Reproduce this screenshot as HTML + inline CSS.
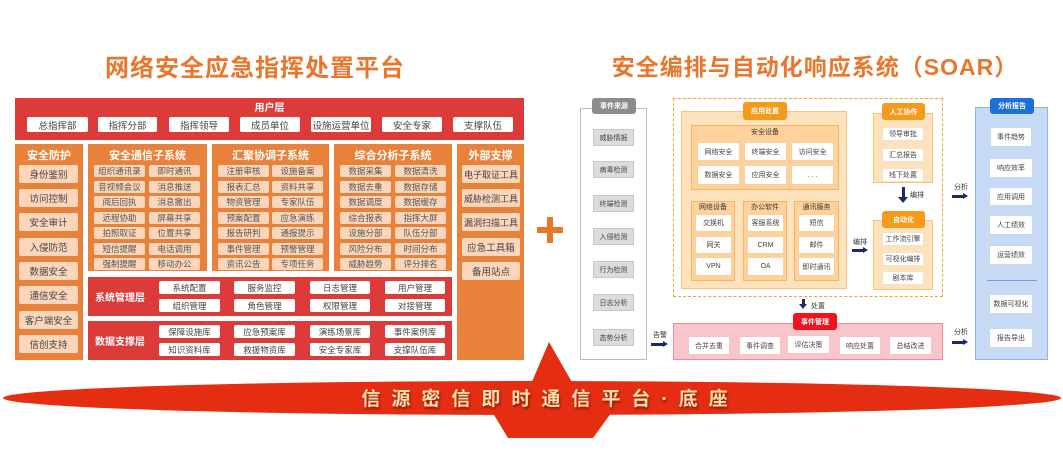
<!DOCTYPE html>
<html><head><meta charset="utf-8">
<style>
*{margin:0;padding:0;box-sizing:border-box}
body{width:1063px;height:473px;background:#fff;position:relative;overflow:hidden;font-family:"Liberation Sans","Noto Sans CJK SC",sans-serif}
div{position:absolute}
.c{display:flex;align-items:center;justify-content:center;text-align:center;white-space:nowrap}
.red{background:#dc3b3a}
.or{background:#e8823a}
.w{background:#fff;color:#444;font-size:9.5px;border-radius:2px}
.p{background:#fbd6bb;color:#555;font-size:8.5px;border-radius:2px}
.ph{background:#fbd6bb;color:#444;font-size:9.5px;border-radius:2px}
.t{color:#fff;font-weight:bold;font-size:11px}
.s{background:#fff;color:#444;font-size:7px;border-radius:1px;box-shadow:0 0 1px #ccc}
.g{background:#dcdcdc;color:#444;font-size:7px;border:1px solid #c8c8c8}
.pill{color:#fff;font-size:7px;font-weight:bold;border-radius:3px}
.lab{font-size:7px;color:#333}
.ar{height:3px;background:#1c2a6b}
.m{font-size:8.5px}
</style></head><body>

<div class="c" style="left:60px;top:50px;width:390px;height:30px;color:#e8762c;font-size:24px;font-weight:bold;letter-spacing:1px">网络安全应急指挥处置平台</div>
<div class="c" style="left:600px;top:50px;width:430px;height:30px;color:#e8762c;font-size:23px;font-weight:bold;letter-spacing:1px">安全编排与自动化响应系统（SOAR）</div>

<div class="red" style="left:15px;top:98px;width:509px;height:42px"></div>
<div class="c t" style="left:15px;top:99px;width:509px;height:14px;font-size:10px">用户层</div>
<div class="c w" style="left:27px;top:117px;width:61px;height:15px">总指挥部</div>
<div class="c w" style="left:98px;top:117px;width:59px;height:15px">指挥分部</div>
<div class="c w" style="left:169px;top:117px;width:60px;height:15px">指挥领导</div>
<div class="c w" style="left:240px;top:117px;width:60px;height:15px">成员单位</div>
<div class="c w" style="left:311px;top:117px;width:60px;height:15px">设施运营单位</div>
<div class="c w" style="left:382px;top:117px;width:60px;height:15px">安全专家</div>
<div class="c w" style="left:453px;top:117px;width:60px;height:15px">支撑队伍</div>

<div class="or" style="left:15px;top:144px;width:68px;height:216px"></div>
<div class="c t" style="left:15px;top:148px;width:68px;height:14px">安全防护</div>
<div class="c ph" style="left:19px;top:165px;width:59px;height:18px">身份鉴别</div>
<div class="c ph" style="left:19px;top:189px;width:59px;height:18px">访问控制</div>
<div class="c ph" style="left:19px;top:213px;width:59px;height:18px">安全审计</div>
<div class="c ph" style="left:19px;top:238px;width:59px;height:18px">入侵防范</div>
<div class="c ph" style="left:19px;top:262px;width:59px;height:18px">数据安全</div>
<div class="c ph" style="left:19px;top:286px;width:59px;height:18px">通信安全</div>
<div class="c ph" style="left:19px;top:311px;width:59px;height:18px">客户端安全</div>
<div class="c ph" style="left:19px;top:335px;width:59px;height:18px">信创支持</div>

<div class="or" style="left:88px;top:144px;width:119px;height:127px"></div>
<div class="c t" style="left:88px;top:148px;width:119px;height:14px">安全通信子系统</div>
<div class="or" style="left:212px;top:144px;width:117px;height:127px"></div>
<div class="c t" style="left:212px;top:148px;width:117px;height:14px">汇聚协调子系统</div>
<div class="or" style="left:334px;top:144px;width:118px;height:127px"></div>
<div class="c t" style="left:334px;top:148px;width:118px;height:14px">综合分析子系统</div>

<div class="c p" style="left:94px;top:165px;width:51px;height:12px">组织通讯录</div><div class="c p" style="left:149px;top:165px;width:51px;height:12px">即时通讯</div>
<div class="c p" style="left:94px;top:180.5px;width:51px;height:12px">音视频会议</div><div class="c p" style="left:149px;top:180.5px;width:51px;height:12px">消息推送</div>
<div class="c p" style="left:94px;top:196px;width:51px;height:12px">阅后回执</div><div class="c p" style="left:149px;top:196px;width:51px;height:12px">消息撤出</div>
<div class="c p" style="left:94px;top:211.5px;width:51px;height:12px">远程协助</div><div class="c p" style="left:149px;top:211.5px;width:51px;height:12px">屏幕共享</div>
<div class="c p" style="left:94px;top:227px;width:51px;height:12px">拍照取证</div><div class="c p" style="left:149px;top:227px;width:51px;height:12px">位置共享</div>
<div class="c p" style="left:94px;top:242.5px;width:51px;height:12px">短信提醒</div><div class="c p" style="left:149px;top:242.5px;width:51px;height:12px">电话调用</div>
<div class="c p" style="left:94px;top:258px;width:51px;height:12px">强制提醒</div><div class="c p" style="left:149px;top:258px;width:51px;height:12px">移动办公</div>

<div class="c p" style="left:218px;top:165px;width:51px;height:12px">注册审核</div><div class="c p" style="left:272px;top:165px;width:51px;height:12px">设施备案</div>
<div class="c p" style="left:218px;top:180.5px;width:51px;height:12px">报表汇总</div><div class="c p" style="left:272px;top:180.5px;width:51px;height:12px">资料共享</div>
<div class="c p" style="left:218px;top:196px;width:51px;height:12px">物资管理</div><div class="c p" style="left:272px;top:196px;width:51px;height:12px">专家队伍</div>
<div class="c p" style="left:218px;top:211.5px;width:51px;height:12px">预案配置</div><div class="c p" style="left:272px;top:211.5px;width:51px;height:12px">应急演练</div>
<div class="c p" style="left:218px;top:227px;width:51px;height:12px">报告研判</div><div class="c p" style="left:272px;top:227px;width:51px;height:12px">通报提示</div>
<div class="c p" style="left:218px;top:242.5px;width:51px;height:12px">事件管理</div><div class="c p" style="left:272px;top:242.5px;width:51px;height:12px">预警管理</div>
<div class="c p" style="left:218px;top:258px;width:51px;height:12px">资讯公告</div><div class="c p" style="left:272px;top:258px;width:51px;height:12px">专项任务</div>

<div class="c p" style="left:340px;top:165px;width:51px;height:12px">数据采集</div><div class="c p" style="left:395px;top:165px;width:51px;height:12px">数据清洗</div>
<div class="c p" style="left:340px;top:180.5px;width:51px;height:12px">数据去重</div><div class="c p" style="left:395px;top:180.5px;width:51px;height:12px">数据存储</div>
<div class="c p" style="left:340px;top:196px;width:51px;height:12px">数据调度</div><div class="c p" style="left:395px;top:196px;width:51px;height:12px">数据缓存</div>
<div class="c p" style="left:340px;top:211.5px;width:51px;height:12px">综合报表</div><div class="c p" style="left:395px;top:211.5px;width:51px;height:12px">指挥大屏</div>
<div class="c p" style="left:340px;top:227px;width:51px;height:12px">设施分部</div><div class="c p" style="left:395px;top:227px;width:51px;height:12px">队伍分部</div>
<div class="c p" style="left:340px;top:242.5px;width:51px;height:12px">风险分布</div><div class="c p" style="left:395px;top:242.5px;width:51px;height:12px">时间分布</div>
<div class="c p" style="left:340px;top:258px;width:51px;height:12px">威胁趋势</div><div class="c p" style="left:395px;top:258px;width:51px;height:12px">评分排名</div>

<div class="or" style="left:457px;top:144px;width:67px;height:216px"></div>
<div class="c t" style="left:457px;top:148px;width:67px;height:14px">外部支撑</div>
<div class="c ph" style="left:462px;top:165px;width:58px;height:18px;font-size:9px">电子取证工具</div>
<div class="c ph" style="left:462px;top:189px;width:58px;height:18px;font-size:9px">威胁检测工具</div>
<div class="c ph" style="left:462px;top:213px;width:58px;height:18px;font-size:9px">漏洞扫描工具</div>
<div class="c ph" style="left:462px;top:238px;width:58px;height:18px">应急工具箱</div>
<div class="c ph" style="left:462px;top:262px;width:58px;height:18px">备用站点</div>

<div class="red" style="left:88px;top:277px;width:364px;height:39px"></div>
<div class="c t" style="left:92px;top:289px;width:56px;height:14px;font-size:10px">系统管理层</div>
<div class="c w m" style="left:159px;top:281px;width:61px;height:13px">系统配置</div>
<div class="c w m" style="left:234px;top:281px;width:61px;height:13px">服务监控</div>
<div class="c w m" style="left:310px;top:281px;width:60px;height:13px">日志管理</div>
<div class="c w m" style="left:385px;top:281px;width:60px;height:13px">用户管理</div>
<div class="c w m" style="left:159px;top:299px;width:61px;height:13px">组织管理</div>
<div class="c w m" style="left:234px;top:299px;width:61px;height:13px">角色管理</div>
<div class="c w m" style="left:310px;top:299px;width:60px;height:13px">权限管理</div>
<div class="c w m" style="left:385px;top:299px;width:60px;height:13px">对接管理</div>

<div class="red" style="left:88px;top:321px;width:364px;height:39px"></div>
<div class="c t" style="left:92px;top:333px;width:56px;height:14px;font-size:10px">数据支撑层</div>
<div class="c w m" style="left:159px;top:325px;width:61px;height:13px">保障设施库</div>
<div class="c w m" style="left:234px;top:325px;width:61px;height:13px">应急预案库</div>
<div class="c w m" style="left:310px;top:325px;width:60px;height:13px">演练场景库</div>
<div class="c w m" style="left:385px;top:325px;width:60px;height:13px">事件案例库</div>
<div class="c w m" style="left:159px;top:343px;width:61px;height:13px">知识资料库</div>
<div class="c w m" style="left:234px;top:343px;width:61px;height:13px">救援物资库</div>
<div class="c w m" style="left:310px;top:343px;width:60px;height:13px">安全专家库</div>
<div class="c w m" style="left:385px;top:343px;width:60px;height:13px">支撑队伍库</div>

<div style="left:537px;top:227px;width:26px;height:6px;background:#e8762c"></div>
<div style="left:547px;top:217px;width:6px;height:26px;background:#e8762c"></div>

<div style="left:580px;top:108px;width:67px;height:252px;border:1px solid #bbb;background:#fff"></div>
<div class="c pill" style="left:592px;top:98px;width:44px;height:16px;background:#8c8c8c">事件来源</div>
<div class="c g" style="left:593px;top:129px;width:41px;height:17px">威胁情报</div>
<div class="c g" style="left:593px;top:161px;width:41px;height:17px">病毒检测</div>
<div class="c g" style="left:593px;top:195px;width:41px;height:17px">终端检测</div>
<div class="c g" style="left:593px;top:228px;width:41px;height:17px">入侵检测</div>
<div class="c g" style="left:593px;top:261px;width:41px;height:17px">行为检测</div>
<div class="c g" style="left:593px;top:294px;width:41px;height:17px">日志分析</div>
<div class="c g" style="left:593px;top:329px;width:41px;height:17px">态势分析</div>

<div style="left:673px;top:98px;width:270px;height:199px;border:1.5px dashed #f5a623"></div>
<div style="left:681px;top:111px;width:166px;height:178px;background:#fde3bd;border:1px solid #f7c27a"></div>
<div class="c pill" style="left:743px;top:102px;width:44px;height:18px;background:#f59a1b">应用处置</div>
<div style="left:691px;top:125px;width:148px;height:65px;background:#fdd39b;border:1px solid #f5b461"></div>
<div class="c lab" style="left:691px;top:127px;width:148px;height:10px">安全设备</div>
<div class="c s" style="left:698px;top:143px;width:41px;height:17px">网络安全</div>
<div class="c s" style="left:745px;top:143px;width:41px;height:17px">终端安全</div>
<div class="c s" style="left:792px;top:143px;width:41px;height:17px">访问安全</div>
<div class="c s" style="left:698px;top:166px;width:41px;height:18px">数据安全</div>
<div class="c s" style="left:745px;top:166px;width:41px;height:18px">应用安全</div>
<div class="c s" style="left:792px;top:166px;width:41px;height:18px">. . .</div>

<div style="left:691px;top:201px;width:44px;height:80px;background:#fdd39b;border:1px solid #f5b461"></div>
<div style="left:743px;top:201px;width:44px;height:80px;background:#fdd39b;border:1px solid #f5b461"></div>
<div style="left:794px;top:201px;width:45px;height:80px;background:#fdd39b;border:1px solid #f5b461"></div>
<div class="c lab" style="left:691px;top:202px;width:44px;height:10px">网络设备</div>
<div class="c lab" style="left:743px;top:202px;width:44px;height:10px">办公软件</div>
<div class="c lab" style="left:794px;top:202px;width:45px;height:10px">通讯服务</div>
<div class="c s" style="left:696px;top:215px;width:35px;height:16px">交换机</div>
<div class="c s" style="left:696px;top:237px;width:35px;height:16px">网关</div>
<div class="c s" style="left:696px;top:258px;width:35px;height:17px">VPN</div>
<div class="c s" style="left:748px;top:215px;width:35px;height:16px">客服系统</div>
<div class="c s" style="left:748px;top:237px;width:35px;height:16px">CRM</div>
<div class="c s" style="left:748px;top:258px;width:35px;height:17px">OA</div>
<div class="c s" style="left:799px;top:215px;width:35px;height:16px">短信</div>
<div class="c s" style="left:799px;top:237px;width:35px;height:16px">邮件</div>
<div class="c s" style="left:799px;top:258px;width:35px;height:17px">即时通讯</div>

<div style="left:873px;top:113px;width:60px;height:70px;background:#fde3bd;border:1px solid #f7c27a"></div>
<div class="c pill" style="left:882px;top:103px;width:43px;height:17px;background:#f59a1b">人工协作</div>
<div class="c s" style="left:883px;top:128px;width:40px;height:12px">领导审批</div>
<div class="c s" style="left:883px;top:149px;width:40px;height:12px">汇总报告</div>
<div class="c s" style="left:883px;top:169px;width:40px;height:12px">线下处置</div>
<div style="left:901.5px;top:187px;width:3px;height:11px;background:#1c2a6b"></div>
<div style="left:898px;top:197px;border-left:5px solid transparent;border-right:5px solid transparent;border-top:6px solid #1c2a6b"></div>
<div class="lab" style="left:910px;top:190px">编排</div>

<div style="left:873px;top:220px;width:60px;height:70px;background:#fde3bd;border:1px solid #f7c27a"></div>
<div class="c pill" style="left:882px;top:211px;width:43px;height:17px;background:#f59a1b">自动化</div>
<div class="c s" style="left:883px;top:233px;width:40px;height:12px">工作流引擎</div>
<div class="c s" style="left:883px;top:253px;width:40px;height:12px">可视化编排</div>
<div class="c s" style="left:883px;top:272px;width:40px;height:12px">剧本库</div>
<div class="lab" style="left:853px;top:237px">编排</div>
<div class="ar" style="left:852px;top:249px;width:12px"></div>
<div style="left:863px;top:247px;border-top:3.5px solid transparent;border-bottom:3.5px solid transparent;border-left:5px solid #1c2a6b"></div>

<div style="left:801.5px;top:299px;width:3px;height:6px;background:#1c2a6b"></div>
<div style="left:799px;top:304px;border-left:4px solid transparent;border-right:4px solid transparent;border-top:5px solid #1c2a6b"></div>
<div class="lab" style="left:811px;top:301px">处置</div>

<div style="left:673px;top:323px;width:270px;height:37px;background:#f7c5cb;border:1px solid #f08a93"></div>
<div class="c pill" style="left:793px;top:313px;width:44px;height:17px;background:#f0141e">事件管理</div>
<div class="c s" style="left:689px;top:337px;width:40px;height:17px">合并去重</div>
<div class="c s" style="left:740px;top:337px;width:40px;height:17px">事件调查</div>
<div class="c s" style="left:788px;top:336px;width:41px;height:17px">评估决策</div>
<div class="c s" style="left:840px;top:337px;width:40px;height:17px">响应处置</div>
<div class="c s" style="left:890px;top:337px;width:41px;height:17px">总结改进</div>
<div class="lab" style="left:653px;top:330px">告警</div>
<div class="ar" style="left:651px;top:343px;width:13px"></div>
<div style="left:663px;top:341px;border-top:3.5px solid transparent;border-bottom:3.5px solid transparent;border-left:5px solid #1c2a6b"></div>

<div class="lab" style="left:954px;top:182px">分析</div>
<div class="ar" style="left:952px;top:195px;width:12px"></div>
<div style="left:963px;top:193px;border-top:3.5px solid transparent;border-bottom:3.5px solid transparent;border-left:5px solid #1c2a6b"></div>
<div class="lab" style="left:954px;top:327px">分析</div>
<div class="ar" style="left:952px;top:341px;width:12px"></div>
<div style="left:963px;top:339px;border-top:3.5px solid transparent;border-bottom:3.5px solid transparent;border-left:5px solid #1c2a6b"></div>

<div style="left:975px;top:107px;width:73px;height:253px;background:#c6daf6;border:1px solid #8db3e8"></div>
<div class="c pill" style="left:990px;top:98px;width:44px;height:16px;background:#1f6fd8">分析报告</div>
<div class="c s" style="left:991px;top:128px;width:40px;height:18px">事件趋势</div>
<div class="c s" style="left:990px;top:159px;width:42px;height:18px">响应效率</div>
<div class="c s" style="left:990px;top:188px;width:42px;height:17px">应用调用</div>
<div class="c s" style="left:990px;top:216px;width:42px;height:18px">人工绩效</div>
<div class="c s" style="left:990px;top:246px;width:42px;height:18px">运营绩效</div>
<div style="left:987px;top:280px;width:50px;height:1px;background:#6f9fe0"></div>
<div class="c s" style="left:990px;top:295px;width:42px;height:18px">数据可视化</div>
<div class="c s" style="left:990px;top:329px;width:42px;height:18px">报告导出</div>

<svg style="position:absolute;left:0;top:0" width="1063" height="473">
<polygon points="549,342 531,384 573,384" fill="#e52d12"/>
<polygon points="488,405 617,405 593,438 508,438" fill="#e52d12"/>
<ellipse cx="532" cy="398" rx="529" ry="17" fill="#e52d12"/>
</svg>
<div class="c" style="left:300px;top:384px;width:500px;height:26px;font-size:19px;font-weight:bold;color:#fde0b0;letter-spacing:11px;text-shadow:1px 2px 2px #8a1a05">信源密信即时通信平台·底座</div>

</body></html>
